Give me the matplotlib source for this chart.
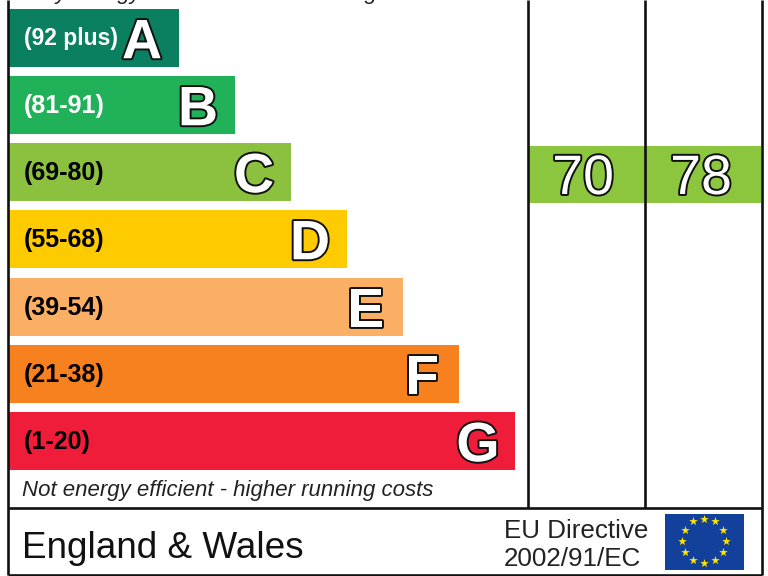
"""
EPC energy efficiency rating chart (England & Wales)
"""

import matplotlib

matplotlib.use("Agg")

import matplotlib.patheffects as pe
import matplotlib.pyplot as plt
import numpy as np
from matplotlib.patches import Rectangle

plt.rcParams["font.family"] = ["Liberation Sans", "DejaVu Sans"]

# Data
letters = ["A", "B", "C", "D", "E", "F", "G"]
ranges = ["(92 plus)", "(81-91)", "(69-80)", "(55-68)", "(39-54)", "(21-38)", "(1-20)"]
bar_rights = [179, 235, 291, 347, 403, 459, 515]
bar_tops = [9, 76, 143, 210, 278, 345, 412]
bar_colors = ["#0a8060", "#20b159", "#8cc13f", "#fecb00", "#fbaf64", "#f8811f", "#ef1c3a"]
range_colors = ["white", "white", "black", "black", "black", "black", "black"]
current_score = 70
potential_score = 78
score_color = "#8cc63f"

fig = plt.figure(figsize=(7.68, 5.76), dpi=100)
ax = fig.add_axes([0, 0, 1, 1])
ax.set_xlim(0, 768)
ax.set_ylim(576, 0)
ax.axis("off")

bar_left = 9
bar_height = 57.5
ax.barh(
    bar_tops,
    np.array(bar_rights) - bar_left,
    left=bar_left,
    height=bar_height,
    align="edge",
    color=bar_colors,
)

outline = [pe.withStroke(linewidth=2.8, foreground="#111111")]

for i, letter in enumerate(letters):
    mid = bar_tops[i] + bar_height / 2
    label_size = 16.5 if i == 0 else 18
    ax.text(24, mid - 1.5, ranges[i], color=range_colors[i], fontsize=label_size, fontweight="bold",
            ha="left", va="center_baseline")
    ax.text(bar_rights[i] - 37, mid + 0.5, letter, color="white", fontsize=40, fontweight="bold",
            ha="center", va="center_baseline", path_effects=outline)

# Score columns
ax.add_patch(Rectangle((528, 146), 233, 57, facecolor=score_color, edgecolor="none"))
ax.text(583, 174, str(current_score), color="white", fontsize=40, ha="center",
        va="center_baseline", path_effects=outline)
ax.text(701, 174, str(potential_score), color="white", fontsize=40, ha="center",
        va="center_baseline", path_effects=outline)

# Frame lines
line_kw = dict(color="#111111", linewidth=1.9, solid_capstyle="butt")
ax.plot([8, 8], [0, 575], **line_kw)
ax.plot([762, 762], [0, 575], **line_kw)
ax.plot([527.5, 527.5], [0, 508], **line_kw)
ax.plot([645, 645], [0, 508], **line_kw)
ax.plot([8, 762], [508, 508], **line_kw)
ax.plot([8, 762], [574.5, 574.5], **line_kw)

# Captions, the top one is cut off by the picture edge
ax.text(22, -1, "Very energy efficient - lower running costs", fontsize=16, style="italic",
        color="#222222", ha="left", va="baseline", clip_on=True)
ax.text(22, 496, "Not energy efficient - higher running costs", fontsize=16, style="italic",
        color="#222222", ha="left", va="baseline")
ax.text(22, 558, "England & Wales", fontsize=26.6, color="#111111", ha="left", va="baseline")
ax.text(504, 538, "EU Directive", fontsize=18.7, color="#222222", ha="left", va="baseline")
ax.text(504, 566, "2002/91/EC", fontsize=18.7, color="#222222", ha="left", va="baseline")

# EU flag
ax.add_patch(Rectangle((665, 514), 79, 56, facecolor="#12409a", edgecolor="none"))
angles = np.deg2rad(np.arange(0, 360, 30))
ax.scatter(704 + 22 * np.cos(angles), 540.5 + 22 * np.sin(angles), marker="*", s=42,
           color="#ffe500", linewidths=0, zorder=3)

fig.savefig("out.png", dpi=100, facecolor="white")
plt.close(fig)
